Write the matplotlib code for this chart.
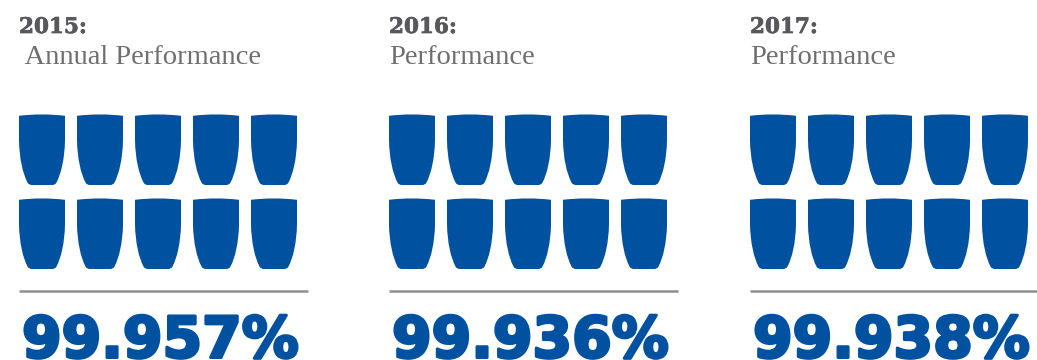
import matplotlib
matplotlib.use("Agg")
import matplotlib.pyplot as plt
from matplotlib.patches import PathPatch
from matplotlib.path import Path
import matplotlib.patheffects as pe

years = ["2015:", "2016:", "2017:"]
subtitles = [" Annual Performance", "Performance", "Performance"]
performance = ["99.957%", "99.936%", "99.938%"]
cups_per_row = 5
cup_rows = 2

BLUE = "#00519f"
GREY = "#58585a"
LIGHT_GREY = "#6e6e6e"
RULE = "#8f8f8f"
panel_left = [19, 389, 750]


def cup_path(x, y, w=46, h=71):
    """Tumbler icon with a slightly domed rim, tapering to a flat base."""
    verts = [
        (x, y + 1.8),
        (x + w / 2, y - 1), (x + w, y + 1.8),
        (x + w, y + 26),
        (x + w - 0.3, y + 45), (x + w - 4, y + 60), (x + w - 8.5, y + h - 2.5),
        (x + w - 9.5, y + h), (x + w - 13, y + h),
        (x + 13, y + h),
        (x + 9.5, y + h), (x + 8.5, y + h - 2.5),
        (x + 4, y + 60), (x + 0.3, y + 45), (x, y + 26),
        (x, y + 1.8),
    ]
    codes = [Path.MOVETO, Path.CURVE3, Path.CURVE3,
             Path.LINETO,
             Path.CURVE4, Path.CURVE4, Path.CURVE4,
             Path.CURVE3, Path.CURVE3,
             Path.LINETO,
             Path.CURVE3, Path.CURVE3,
             Path.CURVE4, Path.CURVE4, Path.CURVE4,
             Path.CLOSEPOLY]
    return Path(verts, codes)


fig = plt.figure(figsize=(10.37, 3.60), dpi=100, facecolor="white")
ax = fig.add_axes([0, 0, 1, 1])
ax.set_xlim(0, 1037)
ax.set_ylim(360, 0)
ax.axis("off")

for left, year, sub, value in zip(panel_left, years, subtitles, performance):
    y_text = ax.text(left, 33, year, fontsize=15.5, family="DejaVu Serif", weight="bold",
                     color=GREY, va="baseline", ha="left")
    y_text.set_path_effects([pe.withStroke(linewidth=0.5, foreground=GREY)])
    ax.text(left, 63.5, sub, fontsize=20.5, family="Liberation Serif",
            color=LIGHT_GREY, va="baseline", ha="left")
    for row in range(cup_rows):
        for col in range(cups_per_row):
            ax.add_patch(PathPatch(cup_path(left + col * 58, 114 + row * 84),
                                   facecolor=BLUE, edgecolor="none"))
    ax.plot([left, left + 289], [291, 291], color=RULE, lw=1.8,
            solid_capstyle="butt")
    t = ax.text(left + 3, 357.5, value, fontsize=41, family="DejaVu Sans",
                weight="bold", color=BLUE, va="baseline", ha="left")
    t.set_path_effects([pe.withStroke(linewidth=2.2, foreground=BLUE)])

fig.savefig("out.png", dpi=100)
